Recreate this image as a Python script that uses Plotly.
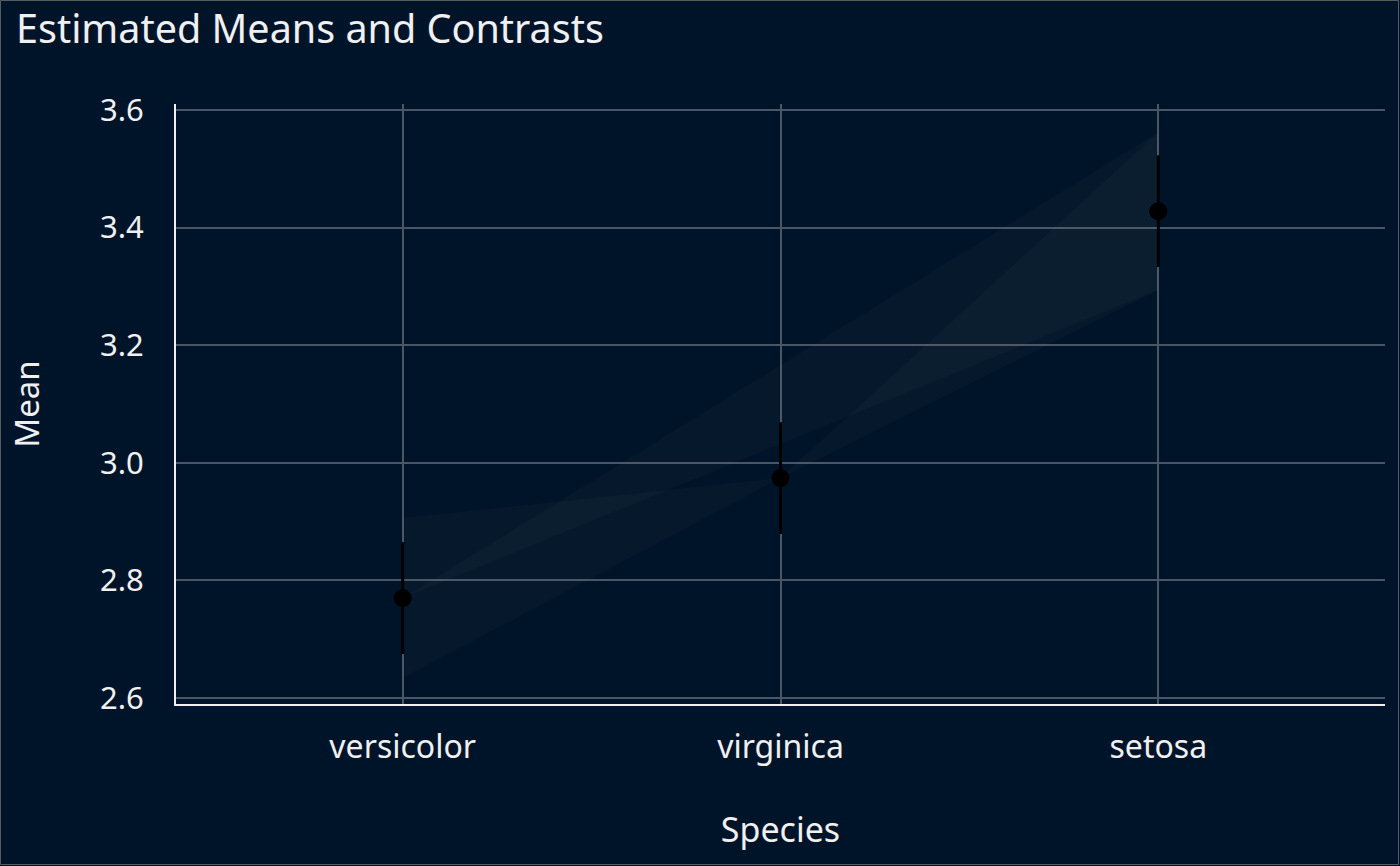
import plotly.graph_objects as go

# estimated marginal means (Sepal.Width by Species)
species = ["versicolor", "virginica", "setosa"]
means = [2.770, 2.974, 3.428]
ci_low = [2.675, 2.879, 3.333]
ci_high = [2.865, 3.069, 3.523]

# pairwise contrasts: level1 - level2
contrast_level1 = ["setosa", "setosa", "versicolor"]
contrast_level2 = ["versicolor", "virginica", "virginica"]
contrast_low = [0.524, 0.320, -0.340]
contrast_high = [0.792, 0.588, -0.068]

y_ticks = [2.6, 2.8, 3.0, 3.2, 3.4, 3.6]

BG = "#001429"
GRID = "#4a5566"
TEXT = "#f0f0f0"
FONT = "Noto Sans"
W, H = 1400, 866
L, R, T, B = 176, 15, 104, 162

fig = go.Figure()

# contrast wedges: apex at level2 mean, base at level1 spanning mean2 + CI
mean_of = dict(zip(species, means))
for lv1, lv2, lo, hi in zip(contrast_level1, contrast_level2, contrast_low, contrast_high):
    m2 = mean_of[lv2]
    fig.add_trace(go.Scatter(
        x=[lv2, lv1, lv1, lv2],
        y=[m2, m2 + lo, m2 + hi, m2],
        mode="lines",
        fill="toself",
        fillcolor="rgba(150,145,120,0.04)",
        line=dict(width=0),
        hoverinfo="skip",
    ))

fig.add_trace(go.Scatter(
    x=species,
    y=means,
    mode="markers",
    marker=dict(size=18, color="black"),
    error_y=dict(type="data", symmetric=False,
                 array=[h - m for h, m in zip(ci_high, means)],
                 arrayminus=[m - l for m, l in zip(means, ci_low)],
                 color="black", thickness=3, width=0),
))

fig.update_layout(
    width=W, height=H,
    paper_bgcolor=BG, plot_bgcolor=BG,
    showlegend=False,
    margin=dict(l=L, r=R, t=T, b=B),
    font=dict(family=FONT, color=TEXT, size=32),
    title=dict(text="Estimated Means and Contrasts", x=16 / W, xref="container",
               xanchor="left", y=1 - 29 / H, yref="container", yanchor="middle",
               font=dict(size=39.5, color=TEXT)),
    xaxis=dict(type="category", categoryorder="array", categoryarray=species,
               range=[-0.6, 2.6], showgrid=True, gridcolor=GRID, gridwidth=2,
               zeroline=False, showline=True, linecolor=TEXT, linewidth=2,
               ticks="", ticklabelstandoff=14,
               title=dict(text="Species", standoff=52, font=dict(size=34))),
    yaxis=dict(range=[2.5898, 3.6102], tickvals=y_ticks,
               ticktext=[f"{v:.1f}" for v in y_ticks],
               showgrid=True, gridcolor=GRID, gridwidth=2,
               zeroline=False, showline=True, linecolor=TEXT, linewidth=2,
               ticks="", ticklabelstandoff=24, tickfont=dict(size=31),
               title=dict(text="Mean", standoff=50, font=dict(size=33))),
    shapes=[dict(type="rect", xref="paper", yref="paper",
                 x0=(0.5 - L) / (W - L - R), x1=(W - 1.5 - L) / (W - L - R),
                 y0=(H - T - B - (H - 1.5 - T)) / (H - T - B),
                 y1=(H - T - B - (0.5 - T)) / (H - T - B),
                 line=dict(color="#555b63", width=1), layer="below")],
)

# drop the default page margin so the figure sits at the window corner
fig.write_html("out.html", config={"displayModeBar": False},
               post_script="document.body.style.margin='0';")
